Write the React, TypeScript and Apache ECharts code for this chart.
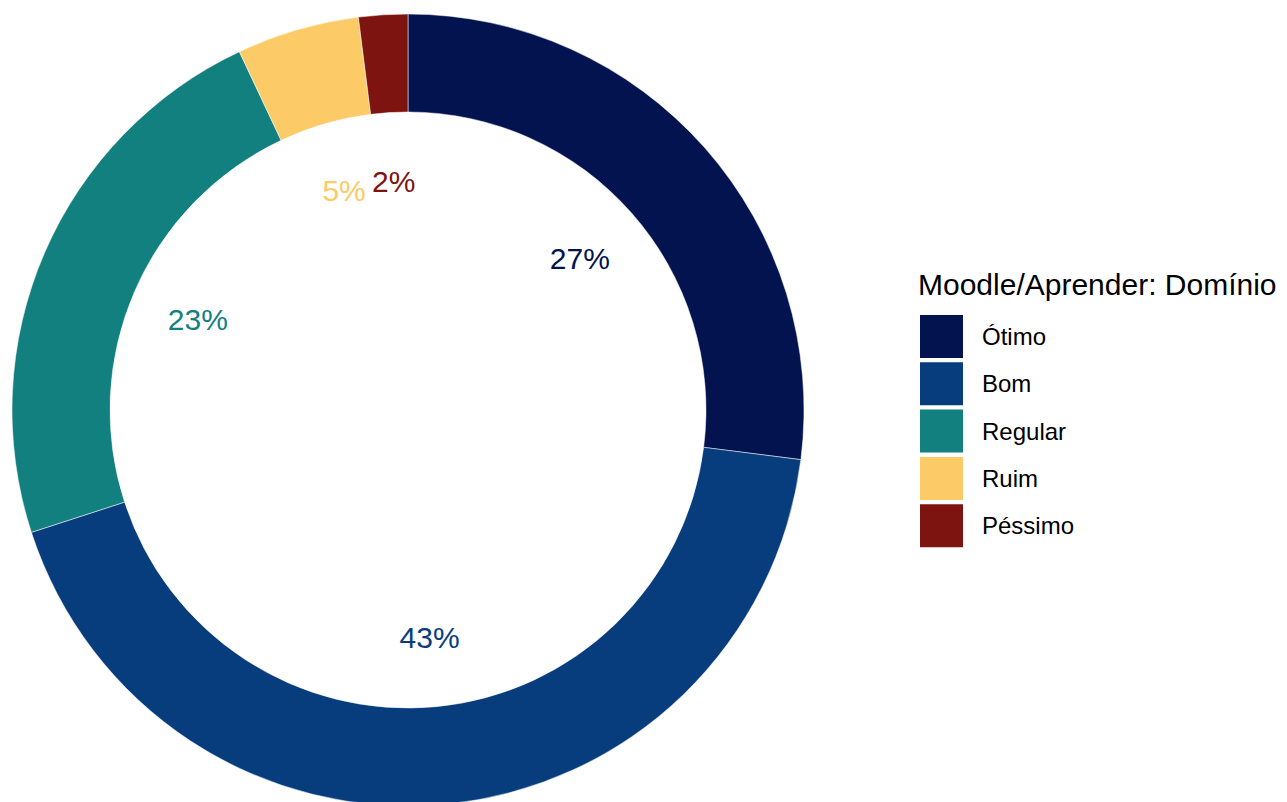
import React, { useEffect, useRef } from "react";
import * as echarts from "echarts";

const categories = ["Ótimo", "Bom", "Regular", "Ruim", "Péssimo"];
const values = [27, 43, 23, 5, 2];
const colors = ["#021350", "#083D7D", "#12807F", "#FDCA68", "#7E140F"];
const legendTitle = "Moodle/Aprender: Domínio";

export default function App() {
  const ref = useRef<HTMLDivElement>(null);
  useEffect(() => {
    const chart = echarts.init(ref.current!, null, { renderer: "svg" });
    const font = "Liberation Sans, Arial, sans-serif";
    chart.setOption({
      animation: false,
      backgroundColor: "#ffffff",
      title: {
        text: legendTitle,
        left: 913,
        top: 264,
        textStyle: { fontFamily: font, fontSize: 30, fontWeight: "normal", color: "#000" },
      },
      legend: {
        orient: "vertical",
        left: 915,
        top: 310,
        itemWidth: 43,
        itemHeight: 43,
        itemGap: 4.3,
        icon: "rect",
        data: categories,
        itemStyle: { borderWidth: 0 },
        textStyle: { fontFamily: font, fontSize: 24, color: "#000", padding: [0, 0, 0, 14] },
      },
      series: [
        {
          type: "pie",
          center: [408, 410],
          radius: [298, 396],
          startAngle: 90,
          clockwise: true,
          silent: true,
          label: { show: false },
          labelLine: { show: false },
          itemStyle: { borderColor: "#fff", borderWidth: 0.5 },
          data: categories.map((c, i) => ({ name: c, value: values[i], itemStyle: { color: colors[i] } })),
        },
        {
          type: "pie",
          center: [408, 410],
          radius: [216, 236],
          startAngle: 90,
          clockwise: true,
          silent: true,
          legendHoverLink: false,
          labelLine: { show: false },
          label: {
            show: true,
            position: "inside",
            fontFamily: font,
            fontSize: 30,
            formatter: (p: any) => p.value + "%",
          },
          data: categories.map((c, i) => ({
            name: c + " ",
            value: values[i],
            itemStyle: { color: "rgba(0,0,0,0)" },
            label: { color: colors[i] },
          })),
        },
      ],
    });
    return () => chart.dispose();
  }, []);
  return <div ref={ref} style={{ width: 1287, height: 802, position: "absolute", left: 0, top: 0 }} />;
}
